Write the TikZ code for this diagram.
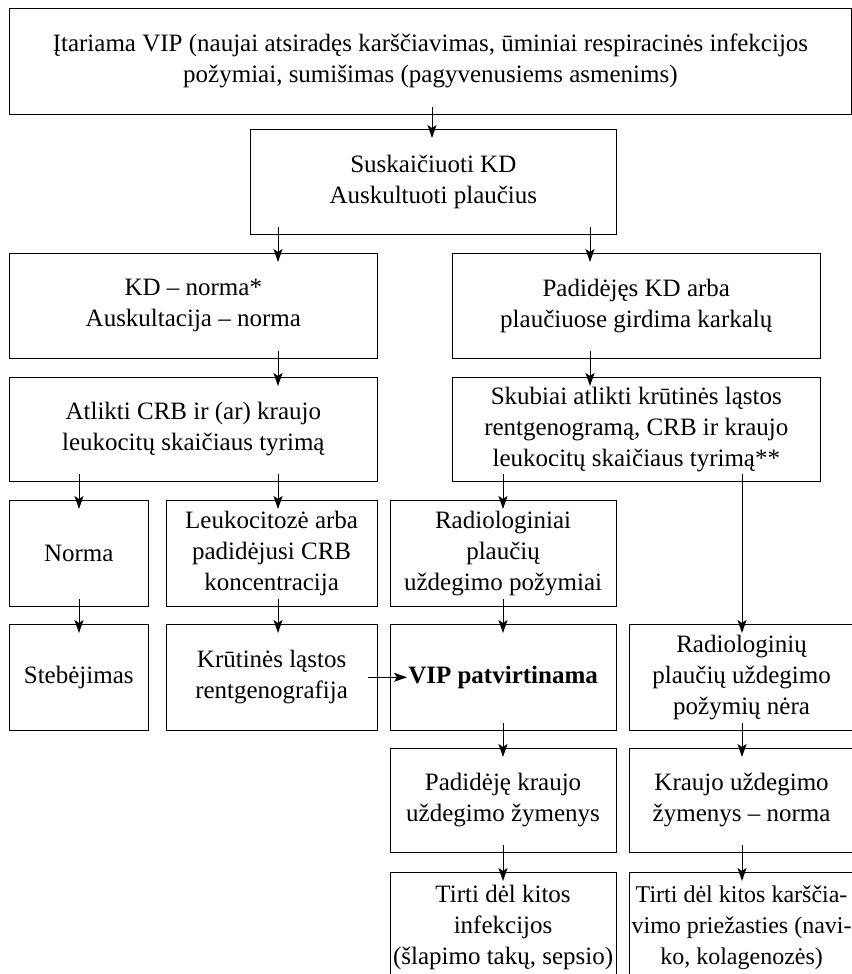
\documentclass[tikz,border=0pt]{standalone}
\usepackage{fontspec}
\setmainfont{Liberation Serif}
\usetikzlibrary{arrows.meta}
\tikzset{
  % framed step of the scheme
  stepbox/.style={draw, line width=1bp, inner sep=2bp, outer sep=0pt,
    align=center, anchor=north west,
    font=\fontsize{25bp}{31bp}\selectfont},
  halfbox/.style={stepbox, minimum width=370, minimum height=106},
  % connector with a tip that runs into the next box
  flow/.style={line width=1bp, -{Stealth[length=13bp,width=9bp,inset=3bp]},
    shorten <=-8bp, shorten >=-9bp},
}
\begin{document}
\begin{tikzpicture}[x=1bp,y=-1bp]
\useasboundingbox (0,0) rectangle (852,974);
\clip (0,0) rectangle (852,974);
% columns of the arrows
\coordinate (colA) at (79,0);
\coordinate (colB) at (278,0);
\coordinate (colC) at (503,0);
\coordinate (colD) at (742,0);
\coordinate (colE) at (590,0);
\coordinate (colM) at (432,0);

\node[stepbox, minimum width=846, minimum height=107] (suspect) at (9,8)
  {Įtariama VIP (naujai atsiradęs karščiavimas, ūminiai respiracinės infekcijos\\požymiai, sumišimas (pagyvenusiems asmenims)};
\node[stepbox, minimum width=368, minimum height=106] (count) at (250,129)
  {Suskaičiuoti KD\\Auskultuoti plaučius};
\node[halfbox] (normal) at (9,253) {KD – norma*\\Auskultacija – norma};
\node[halfbox] (raised) at (452,253) {Padidėjęs KD arba\\plaučiuose girdima karkalų};
\node[halfbox, minimum height=105] (labtest) at (9,377)
  {Atlikti CRB ir (ar) kraujo\\leukocitų skaičiaus tyrimą};
\node[halfbox, minimum height=105] (xray) at (452,377)
  {Skubiai atlikti krūtinės ląstos\\rentgenogramą, CRB ir kraujo\\leukocitų skaičiaus tyrimą**};

\node[stepbox, minimum width=140, minimum height=107] (norm) at (9,500) {Norma};
\node[stepbox, minimum width=212, minimum height=107] (leuko) at (166,500)
  {Leukocitozė arba\\padidėjusi CRB\\koncentracija};
\node[stepbox, minimum width=227, minimum height=107] (radyes) at (390,500)
  {Radiologiniai\\plaučių\\uždegimo požymiai};

\node[stepbox, minimum width=140, minimum height=107] (watch) at (9,624) {Stebėjimas};
\node[stepbox, minimum width=212, minimum height=107] (chest) at (166,624)
  {Krūtinės ląstos\\rentgenografija};
\node[stepbox, minimum width=227, minimum height=107] (vip) at (390,624)
  {\bfseries VIP patvirtinama};
\node[stepbox, minimum width=226, minimum height=107] (radno) at (629,624)
  {Radiologinių\\plaučių uždegimo\\požymių nėra};

\node[stepbox, minimum width=227, minimum height=105] (markup) at (390,748)
  {Padidėję kraujo\\uždegimo žymenys};
\node[stepbox, minimum width=226, minimum height=105] (marknorm) at (629,748)
  {Kraujo uždegimo\\žymenys – norma};

\node[stepbox, minimum width=227, minimum height=112] (other) at (390,872)
  {Tirti dėl kitos\\infekcijos\\(šlapimo takų, sepsio)};
\node[stepbox, minimum width=226, minimum height=112,
  font=\fontsize{24bp}{31bp}\selectfont] (cause) at (629,872)
  {Tirti dėl kitos karščia-\\vimo priežasties (navi-\\ko, kolagenozės)};

\draw[flow] (suspect.south -| colM) -- (count.north -| colM);
\draw[flow] (count.south -| colB) -- (normal.north -| colB);
\draw[flow] (count.south -| colE) -- (raised.north -| colE);
\draw[flow] (normal.south -| colB) -- (labtest.north -| colB);
\draw[flow] (raised.south -| colE) -- (xray.north -| colE);
\draw[flow] (labtest.south -| colA) -- (norm.north -| colA);
\draw[flow] (labtest.south -| colB) -- (leuko.north -| colB);
\draw[flow] (xray.south -| colC) -- (radyes.north -| colC);
\draw[flow] (xray.south -| colD) -- (radno.north -| colD);
\draw[flow] (norm.south -| colA) -- (watch.north -| colA);
\draw[flow] (leuko.south -| colB) -- (chest.north -| colB);
\draw[flow] (radyes.south -| colC) -- (vip.north -| colC);
\draw[flow, shorten <=-9bp, shorten >=-17bp] (chest.east) -- (vip.west);
\draw[flow] (vip.south -| colC) -- (markup.north -| colC);
\draw[flow] (radno.south -| colD) -- (marknorm.north -| colD);
\draw[flow] (markup.south -| colC) -- (other.north -| colC);
\draw[flow] (marknorm.south -| colD) -- (cause.north -| colD);
\end{tikzpicture}
\end{document}
